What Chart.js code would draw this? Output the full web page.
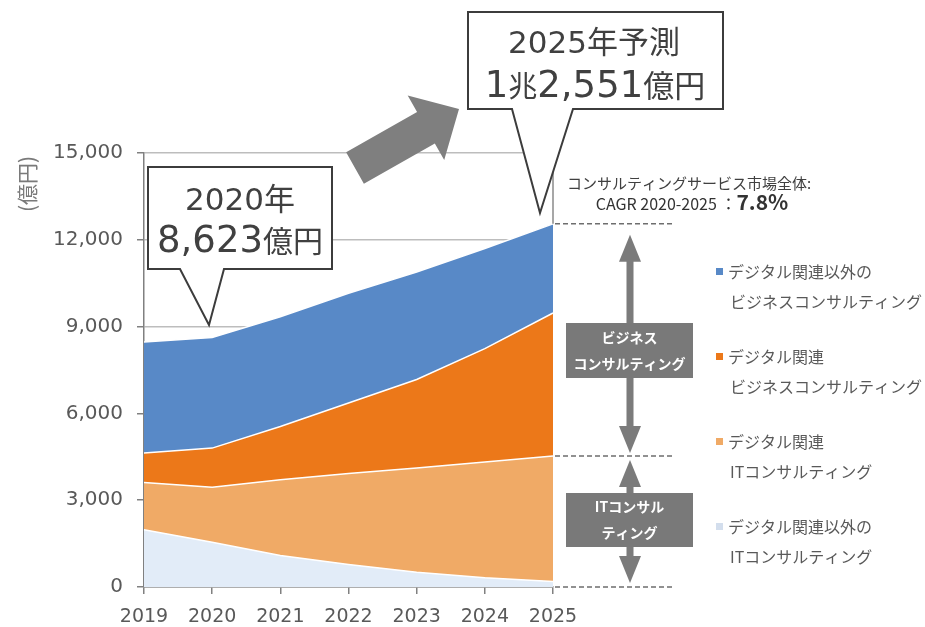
<!DOCTYPE html>
<html>
<head>
<meta charset="utf-8">
<script src="https://cdn.jsdelivr.net/npm/chart.js@4/dist/chart.umd.min.js"></script>
<style>
  html, body { margin: 0; padding: 0; background: #ffffff; }
  #wrap { width: 925px; height: 627px; position: relative; }
</style>
</head>
<body>
<div id="wrap"><canvas id="c" width="925" height="627"></canvas></div>
<script>
// ---- data ----
const years = ['2019', '2020', '2021', '2022', '2023', '2024', '2025'];
const nonDigitalIT  = [1980, 1550, 1090, 780, 510, 320, 190];    // デジタル関連以外のITコンサルティング
const digitalIT     = [1630, 1900, 2620, 3140, 3600, 4000, 4340]; // デジタル関連ITコンサルティング
const digitalBiz    = [1020, 1350, 1840, 2440, 3060, 3920, 4940]; // デジタル関連ビジネスコンサルティング
const nonDigitalBiz = [3840, 3823, 3790, 3790, 3720, 3460, 3081]; // デジタル関連以外のビジネスコンサルティング
const yTickValues = [0, 3000, 6000, 9000, 12000, 15000];
const legendNames = [
  ['デジタル関連以外の', 'ビジネスコンサルティング'],
  ['デジタル関連', 'ビジネスコンサルティング'],
  ['デジタル関連', 'ITコンサルティング'],
  ['デジタル関連以外の', 'ITコンサルティング']
];
const callout2020 = { line1: '2020年', value: '8,623', unit: '億円' };
const callout2025 = { line1: '2025年予測', cho: '1', choUnit: '兆', value: '2,551', unit: '億円' };
const cagrTitle = 'コンサルティングサービス市場全体:';
const cagrLabel = 'CAGR 2020-2025 ：';
const cagrValue = '7.8%';
const bizLabel = ['ビジネス', 'コンサルティング'];
const itLabel = ['ITコンサル', 'ティング'];
const yUnit = '(億円)';

const COLORS = {
  nonDigitalBiz: '#5889c7',
  digitalBiz: '#ec7819',
  digitalIT: '#f0aa66',
  nonDigitalIT: '#e2ecf8'
};
const JP = '"Noto Sans CJK JP", "Noto Sans", sans-serif';
const NUM = '"DejaVu Sans", "Noto Sans CJK JP", sans-serif';
const TXT = '#404040';

function drawRuns(ctx, runs, cx, baseline, color) {
  let total = 0;
  runs.forEach(r => { ctx.font = (r.weight || 'normal') + ' ' + r.size + 'px ' + (r.fam || NUM); r.w = ctx.measureText(r.t).width; total += r.w; });
  let x = cx - total / 2;
  ctx.fillStyle = color || TXT;
  ctx.textAlign = 'left';
  ctx.textBaseline = 'alphabetic';
  runs.forEach(r => { ctx.font = (r.weight || 'normal') + ' ' + r.size + 'px ' + (r.fam || NUM); ctx.fillText(r.t, x, baseline); x += r.w; });
}

function callout(ctx, l, t, r, b, p1, tip, p2) {
  ctx.save();
  ctx.beginPath();
  ctx.moveTo(l, t); ctx.lineTo(r, t); ctx.lineTo(r, b);
  ctx.lineTo(p2, b); ctx.lineTo(tip[0], tip[1]); ctx.lineTo(p1, b);
  ctx.lineTo(l, b); ctx.closePath();
  ctx.fillStyle = '#ffffff';
  ctx.fill();
  ctx.strokeStyle = '#3c3c3c';
  ctx.lineWidth = 2;
  ctx.lineJoin = 'miter';
  ctx.stroke();
  ctx.restore();
}

function doubleArrow(ctx, x, y1, y2) {
  const hw = 11, hh = 27, sw = 7;
  ctx.save();
  ctx.fillStyle = '#7b7b7b';
  ctx.fillRect(x - sw / 2, y1 + hh - 1, sw, (y2 - y1) - 2 * hh + 2);
  ctx.beginPath();
  ctx.moveTo(x, y1); ctx.lineTo(x + hw, y1 + hh); ctx.lineTo(x - hw, y1 + hh); ctx.closePath(); ctx.fill();
  ctx.beginPath();
  ctx.moveTo(x, y2); ctx.lineTo(x + hw, y2 - hh); ctx.lineTo(x - hw, y2 - hh); ctx.closePath(); ctx.fill();
  ctx.restore();
}

function labelBox(ctx, l, t, r, b, lines) {
  ctx.save();
  ctx.fillStyle = '#797979';
  ctx.fillRect(l, t, r - l, b - t);
  ctx.fillStyle = '#ffffff';
  ctx.font = 'bold 14px ' + JP;
  ctx.textAlign = 'center';
  ctx.textBaseline = 'middle';
  const cx = (l + r) / 2, cy = (t + b) / 2;
  ctx.fillText(lines[0], cx, cy - 13);
  ctx.fillText(lines[1], cx, cy + 13);
  ctx.restore();
}

const annotations = {
  id: 'annotations',
  afterDraw(chart) {
    const ctx = chart.ctx;
    const xs = chart.scales.x, ys = chart.scales.y;
    const last = years.length - 1;
    const xEnd = xs.getPixelForValue(last);
    const totalEnd = nonDigitalIT[last] + digitalIT[last] + digitalBiz[last] + nonDigitalBiz[last];
    const itEnd = nonDigitalIT[last] + digitalIT[last];
    const yTop = ys.getPixelForValue(totalEnd);
    const yMid = ys.getPixelForValue(itEnd);
    const yZero = ys.getPixelForValue(0);

    // vertical marker line at 2025 above area
    ctx.save();
    ctx.strokeStyle = '#8a8a8a';
    ctx.lineWidth = 1.5;
    ctx.beginPath();
    ctx.moveTo(xEnd, ys.getPixelForValue(15000)); ctx.lineTo(xEnd, yTop);
    ctx.stroke();

    // dashed guide lines
    ctx.setLineDash([5, 3]);
    ctx.strokeStyle = '#6e6e6e';
    ctx.lineWidth = 1.5;
    [yTop, yMid, yZero].forEach(y => {
      ctx.beginPath(); ctx.moveTo(xEnd + 2, y); ctx.lineTo(675, y); ctx.stroke();
    });
    ctx.restore();

    // double arrows and boxes
    doubleArrow(ctx, 630, yTop + 11, yMid - 3);
    doubleArrow(ctx, 630, yMid + 4, yZero - 4);
    labelBox(ctx, 566, 323, 693, 378, bizLabel);
    labelBox(ctx, 566, 493, 693, 547, itLabel);

    // big growth arrow
    ctx.save();
    ctx.fillStyle = '#7f7f7f';
    const tail = [355, 168], tip = [459, 109];
    const dx = tip[0] - tail[0], dy = tip[1] - tail[1];
    const len = Math.hypot(dx, dy);
    const ux = dx / len, uy = dy / len, px = -uy, py = ux;
    const sh = 18, hh = 37, hl = 38;
    const bx = tip[0] - ux * hl, by = tip[1] - uy * hl;
    ctx.beginPath();
    ctx.moveTo(tail[0] + px * sh, tail[1] + py * sh);
    ctx.lineTo(bx + px * sh, by + py * sh);
    ctx.lineTo(bx + px * hh, by + py * hh);
    ctx.lineTo(tip[0], tip[1]);
    ctx.lineTo(bx - px * hh, by - py * hh);
    ctx.lineTo(bx - px * sh, by - py * sh);
    ctx.lineTo(tail[0] - px * sh, tail[1] - py * sh);
    ctx.closePath();
    ctx.fill();
    ctx.restore();

    // callouts
    callout(ctx, 148, 167, 332, 269, 180, [209, 325], 224);
    drawRuns(ctx, [{ t: callout2020.line1, size: 31 }], 240, 210);
    drawRuns(ctx, [{ t: callout2020.value, size: 37 }, { t: callout2020.unit, size: 30, fam: JP }], 240, 252);

    callout(ctx, 468, 12, 723, 109, 512, [540, 213], 573);
    drawRuns(ctx, [{ t: callout2025.line1, size: 31 }], 594, 53);
    drawRuns(ctx, [{ t: callout2025.cho, size: 37 }, { t: callout2025.choUnit, size: 29, fam: JP },
                   { t: callout2025.value, size: 37 }, { t: callout2025.unit, size: 31, fam: JP }], 595, 97);

    // CAGR text
    ctx.save();
    ctx.fillStyle = TXT;
    ctx.font = '15px ' + JP;
    ctx.textAlign = 'left';
    ctx.textBaseline = 'alphabetic';
    ctx.fillText(cagrTitle, 567, 189);
    ctx.restore();
    drawRuns(ctx, [{ t: cagrLabel, size: 16, fam: JP }, { t: cagrValue, size: 21, weight: 'bold', fam: JP }], 692, 210, '#333333');

    // legend
    const legendColors = [COLORS.nonDigitalBiz, COLORS.digitalBiz, COLORS.digitalIT, COLORS.nonDigitalIT];
    const legendY = [272, 357, 442, 527];
    ctx.save();
    ctx.textAlign = 'left';
    ctx.textBaseline = 'middle';
    legendNames.forEach((lines, i) => {
      const y = legendY[i];
      ctx.fillStyle = i === 3 ? '#d3deed' : legendColors[i];
      ctx.fillRect(716, y - 4, 7, 7);
      ctx.fillStyle = '#595959';
      ctx.font = '16px ' + JP;
      ctx.fillText(lines[0], 728, y);
      ctx.fillText(lines[1], 730, y + 30);
    });
    ctx.restore();

    // y unit title (rotated)
    ctx.save();
    ctx.translate(27, 184);
    ctx.rotate(-Math.PI / 2);
    ctx.fillStyle = '#7a7a7a';
    ctx.font = '21px ' + JP;
    ctx.textAlign = 'center';
    ctx.textBaseline = 'middle';
    ctx.fillText(yUnit, 0, 0);
    ctx.restore();
  }
};

const areaCommon = { borderColor: '#ffffff', borderWidth: 1.5, pointRadius: 0, pointHoverRadius: 0, tension: 0 };

new Chart(document.getElementById('c'), {
  type: 'line',
  data: {
    labels: years,
    datasets: [
      Object.assign({ label: legendNames[3].join(''), data: nonDigitalIT,  backgroundColor: COLORS.nonDigitalIT,  fill: 'origin' }, areaCommon),
      Object.assign({ label: legendNames[2].join(''), data: digitalIT,     backgroundColor: COLORS.digitalIT,     fill: '-1' }, areaCommon),
      Object.assign({ label: legendNames[1].join(''), data: digitalBiz,    backgroundColor: COLORS.digitalBiz,    fill: '-1' }, areaCommon),
      Object.assign({ label: legendNames[0].join(''), data: nonDigitalBiz, backgroundColor: COLORS.nonDigitalBiz, fill: '-1' }, areaCommon)
    ]
  },
  options: {
    responsive: false,
    animation: false,
    events: [],
    layout: { padding: { left: 0, right: 372, top: 153, bottom: 0 } },
    plugins: { legend: { display: false }, tooltip: { enabled: false }, title: { display: false } },
    scales: {
      x: {
        offset: false,
        grid: { display: true, drawOnChartArea: false, drawTicks: true, tickLength: 7, color: '#808080', lineWidth: 1.5 },
        border: { display: true, color: '#808080', width: 1.5 },
        ticks: { color: '#595959', font: { size: 19, family: NUM }, padding: 12, maxRotation: 0 },
        afterFit(scale) { scale.height = 40; }
      },
      y: {
        stacked: true,
        min: 0,
        max: 15000,
        afterBuildTicks(scale) { scale.ticks = yTickValues.map(v => ({ value: v })); },
        grid: { color: '#bdbdbd', lineWidth: 1.5, drawTicks: true, tickLength: 7, tickColor: '#808080' },
        border: { display: true, color: '#808080', width: 1.5 },
        ticks: {
          color: '#595959',
          font: { size: 20, family: NUM },
          padding: 14,
          callback: v => Number(v).toLocaleString('en-US')
        },
        afterFit(scale) { scale.width = 144; }
      }
    }
  },
  plugins: [annotations]
});
</script>
</body>
</html>
